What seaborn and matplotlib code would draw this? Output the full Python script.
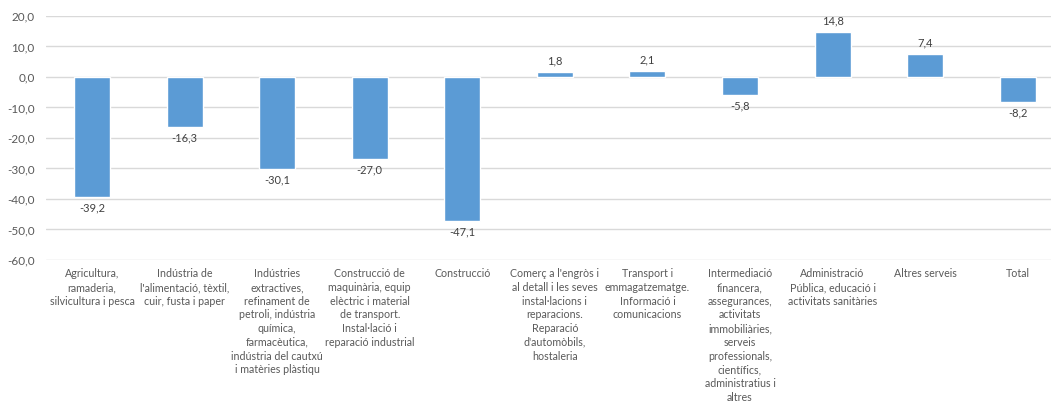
import numpy as np
import pandas as pd
import seaborn as sns
import matplotlib.pyplot as plt

categories = [
    "Agricultura,\nramaderia,\nsilvicultura i pesca",
    "Indústria de\nl'alimentació, tèxtil,\ncuir, fusta i paper",
    "Indústries\nextractives,\nrefinament de\npetroli, indústria\nquímica,\nfarmacèutica,\nindústria del cautxú\ni matèries plàstiqu",
    "Construcció de\nmaquinària, equip\nelèctric i material\nde transport.\nInstal·lació i\nreparació industrial",
    "Construcció",
    "Comerç a l'engròs i\nal detall i les seves\ninstal·lacions i\nreparacions.\nReparació\nd'automòbils,\nhostaleria",
    "Transport i\nemmagatzematge.\nInformació i\ncomunicacions",
    "Intermediació\nfinancera,\nassegurances,\nactivitats\nimmobiliàries,\nserveis\nprofessionals,\ncientífics,\nadministratius i\naltres",
    "Administració\nPública, educació i\nactivitats sanitàries",
    "Altres serveis",
    "Total",
]
values = [-39.2, -16.3, -30.1, -27.0, -47.1, 1.8, 2.1, -5.8, 14.8, 7.4, -8.2]
yticks = [20, 10, 0, -10, -20, -30, -40, -50, -60]

df = pd.DataFrame({"sector": categories, "valor": values})

sns.set_theme(style="white")
plt.rcParams["font.family"] = ["Lato", "DejaVu Sans"]
text_col = "#595959"

fig = plt.figure(figsize=(10.51, 4.05), dpi=100)
ax = fig.add_axes([45.7 / 1051, 1 - 260 / 405, (1064 - 45.7) / 1051, (260 - 16) / 405])

sns.barplot(data=df, x="sector", y="valor", color="#5B9BD5", saturation=1,
            width=0.39, ax=ax)

ax.set_ylim(-60, 20)
ax.set_yticks(yticks)
ax.set_yticklabels([f"{t:.1f}".replace(".", ",") for t in yticks],
                   fontsize=8.5, color=text_col)
for t in yticks:
    ax.axhline(t, color="#D9D9D9", lw=1, zorder=0)

ax.set_xticks(range(len(categories)))
ax.set_xticklabels(categories, fontsize=7.7, color=text_col, linespacing=1.3,
                   va="top")
ax.tick_params(axis="x", length=0, pad=6)
ax.tick_params(axis="y", length=0, pad=8)
ax.set_xlabel("")
ax.set_ylabel("")
sns.despine(ax=ax, left=True, bottom=True, top=True, right=True)

ax.bar_label(ax.containers[0],
             labels=[f"{v:.1f}".replace(".", ",") for v in values],
             padding=4, fontsize=8, color="#404040")

fig.savefig("out.png", dpi=100)
